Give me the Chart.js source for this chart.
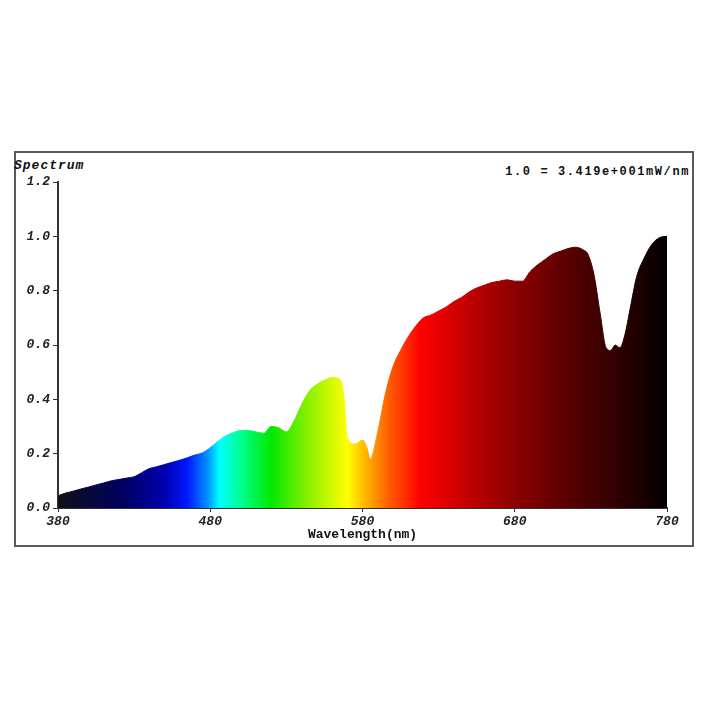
<!DOCTYPE html>
<html>
<head>
<meta charset="utf-8">
<script src="https://cdn.jsdelivr.net/npm/chart.js@4.4.1/dist/chart.umd.min.js"></script>
<style>
    html, body { margin: 0; padding: 0; background: #fff; }
    #wrap { position: relative; width: 720px; height: 720px; }
    #frame {
        position: absolute; left: 14px; top: 151px; width: 676px; height: 392px;
        border: 2px solid #5a5a5a; box-sizing: content-box;
    }
    .lbl {
        position: absolute; font-family: "Liberation Mono", "DejaVu Sans Mono", monospace;
        font-weight: bold; color: #111; white-space: nowrap;
    }
    #spec { left: 14px; top: 158px; font-size: 13px; font-style: italic; letter-spacing: 1px; }
    #scale { right: 30px; top: 165px; font-size: 12px; letter-spacing: 1.6px; overflow: hidden; }
    canvas { position: absolute; left: 0; top: 0; }
</style>
</head>
<body>
<div id="wrap">
    <div id="frame"></div>
    <div class="lbl" id="spec">Spectrum</div>
    <div class="lbl" id="scale">1.0 = 3.419e+001mW/nm</div>
    <canvas id="myChart" width="720" height="720"></canvas>
</div>
<script>
// Longitud de onda (nm) y espectro relativo
var wavelengths = [380, 385, 390, 395, 400, 405, 410, 415, 420, 425, 430, 435, 440, 445, 450, 455, 460, 465, 470, 475,
    480, 485, 490, 495, 500, 505, 510, 515, 520, 525, 530, 535, 540, 545, 550, 555, 560, 565, 568, 570,
    575, 580, 583, 585, 590, 595, 600, 605, 610, 615, 620, 625, 630, 635, 640, 645, 650, 655, 660, 665,
    670, 675, 680, 685, 690, 695, 700, 705, 710, 715, 720, 725, 728, 732, 736, 740, 743, 746, 749, 752,
    756, 760, 765, 770, 775, 780];
var intensity = [0.045, 0.055, 0.062, 0.070, 0.077, 0.085, 0.092, 0.100, 0.105, 0.110, 0.115, 0.130, 0.145, 0.152, 0.160, 0.168, 0.176, 0.185, 0.195, 0.203,
    0.222, 0.245, 0.265, 0.277, 0.285, 0.285, 0.280, 0.275, 0.300, 0.295, 0.280, 0.320, 0.380, 0.430, 0.455, 0.470, 0.480, 0.475, 0.400, 0.260,
    0.235, 0.250, 0.220, 0.180, 0.280, 0.420, 0.520, 0.580, 0.630, 0.670, 0.700, 0.710, 0.725, 0.740, 0.760, 0.775, 0.795, 0.810, 0.820, 0.830,
    0.835, 0.840, 0.835, 0.835, 0.870, 0.895, 0.915, 0.935, 0.945, 0.955, 0.960, 0.950, 0.935, 0.860, 0.720, 0.590, 0.580, 0.600, 0.590, 0.630,
    0.740, 0.850, 0.920, 0.970, 0.995, 1.000];
var xTicks = [380, 480, 580, 680, 780];
var yTicks = [0.0, 0.2, 0.4, 0.6, 0.8, 1.0, 1.2];

// Colores del espectro visible (nm, color)
var spectrumStops = [
    [380, '#101018'], [420, '#00005a'], [450, '#0000b0'], [465, '#0018ff'], [478, '#0090ff'],
    [486, '#00ffff'], [500, '#00ff90'], [520, '#00e800'], [545, '#90f000'], [570, '#ffff00'],
    [582, '#ffb400'], [598, '#ff5a00'], [618, '#ff0000'], [650, '#c00000'], [680, '#8c0000'],
    [720, '#520000'], [755, '#260000'], [780, '#000000']
];

var points = wavelengths.map(function (w, i) { return { x: w, y: intensity[i] }; });

var gradCache = null, gradKey = '';
function spectrumGradient(context) {
    var chart = context.chart;
    var area = chart.chartArea;
    if (!area) return '#000';
    var key = area.left + '-' + area.right;
    if (gradCache && gradKey === key) return gradCache;
    var g = chart.ctx.createLinearGradient(area.left, 0, area.right, 0);
    spectrumStops.forEach(function (s) {
        g.addColorStop((s[0] - 380) / 400, s[1]);
    });
    gradCache = g;
    gradKey = key;
    return g;
}

var monoFont = '"Liberation Mono", "DejaVu Sans Mono", monospace';

var ctx = document.getElementById('myChart').getContext('2d');
var chart = new Chart(ctx, {
    type: 'line',
    data: {
        datasets: [{
            data: points,
            fill: 'origin',
            backgroundColor: spectrumGradient,
            borderColor: spectrumGradient,
            borderWidth: 1,
            pointRadius: 0,
            cubicInterpolationMode: 'monotone'
        }]
    },
    options: {
        responsive: false,
        animation: false,
        layout: { padding: { left: 14, right: 53, top: 182, bottom: 173 } },
        scales: {
            x: {
                type: 'linear',
                min: 380,
                max: 780,
                afterFit: function (scale) { scale.height = 39; },
                afterBuildTicks: function (scale) {
                    scale.ticks = xTicks.map(function (v) { return { value: v }; });
                },
                grid: { drawOnChartArea: false, drawTicks: true, tickLength: 4, color: '#333' },
                border: { display: true, color: '#333', width: 2 },
                ticks: {
                    padding: 2,
                    color: '#222',
                    font: { family: monoFont, size: 13, weight: 'bold', style: 'italic' },
                    maxRotation: 0,
                    callback: function (v) { return String(v); }
                },
                title: {
                    display: true,
                    text: 'Wavelength(nm)',
                    color: '#111',
                    padding: { top: 0, bottom: 4 },
                    font: { family: monoFont, size: 13, weight: 'bold' }
                }
            },
            y: {
                min: 0,
                max: 1.2,
                afterFit: function (scale) { scale.width = 44; },
                afterBuildTicks: function (scale) {
                    scale.ticks = yTicks.map(function (v) { return { value: v }; });
                },
                grid: { drawOnChartArea: false, drawTicks: true, tickLength: 5, color: '#333' },
                border: { display: true, color: '#333', width: 2 },
                ticks: {
                    padding: 3,
                    color: '#222',
                    font: { family: monoFont, size: 13, weight: 'bold', style: 'italic' },
                    callback: function (v) { return Number(v).toFixed(1); }
                }
            }
        },
        plugins: {
            legend: { display: false },
            tooltip: { enabled: false }
        }
    }
});
</script>
</body>
</html>
